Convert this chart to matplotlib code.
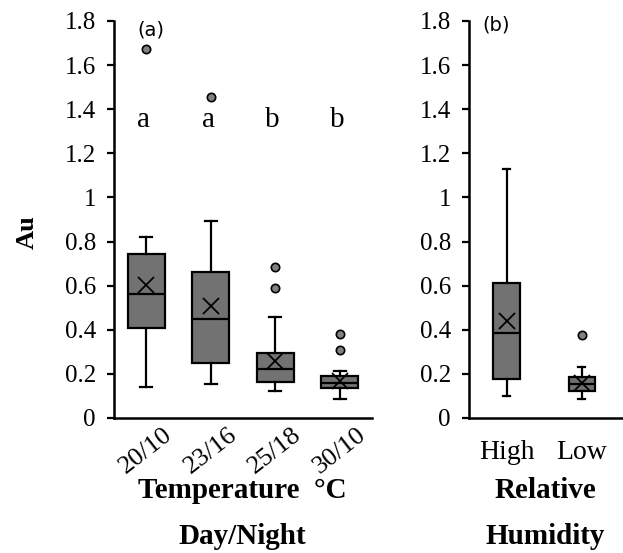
import matplotlib.pyplot as plt

plt.rcParams['font.family'] = ['Liberation Serif', 'DejaVu Serif']

# panel (a): temperature day/night
temp_labels = ['20/10', '23/16', '25/18', '30/10']
temp_whislo = [0.139, 0.154, 0.121, 0.086]
temp_q1 = [0.407, 0.249, 0.163, 0.136]
temp_med = [0.563, 0.450, 0.223, 0.158]
temp_q3 = [0.744, 0.664, 0.294, 0.189]
temp_whishi = [0.822, 0.893, 0.457, 0.214]
temp_mean = [0.603, 0.510, 0.260, 0.170]
temp_fliers = [[1.672], [1.456], [0.683, 0.588], [0.380, 0.309]]
temp_letters = ['a', 'a', 'b', 'b']

# panel (b): relative humidity
rh_labels = ['High', 'Low']
rh_whislo = [0.099, 0.088]
rh_q1 = [0.175, 0.122]
rh_med = [0.385, 0.155]
rh_q3 = [0.612, 0.186]
rh_whishi = [1.131, 0.231]
rh_mean = [0.438, 0.160]
rh_fliers = [[], [0.376]]


def make_stats(lo, q1, med, q3, hi, mean, fl):
    return [dict(whislo=lo[i], q1=q1[i], med=med[i], q3=q3[i], whishi=hi[i],
                 mean=mean[i], fliers=fl[i]) for i in range(len(lo))]


box_kw = dict(patch_artist=True, showmeans=True,
              boxprops=dict(facecolor='#727272', edgecolor='black', linewidth=1.6),
              medianprops=dict(color='black', linewidth=1.6),
              whiskerprops=dict(color='black', linewidth=1.6),
              capprops=dict(color='black', linewidth=1.6),
              meanprops=dict(marker='x', markeredgecolor='black', markersize=12, markeredgewidth=1.3),
              flierprops=dict(marker='o', markerfacecolor='#808080', markeredgecolor='black',
                              markersize=6, markeredgewidth=1.2))

fig = plt.figure(figsize=(6.23, 5.53), dpi=100)
ax1 = fig.add_axes([114 / 623, 1 - 418 / 553, (372 - 114) / 623, 397 / 553])
ax2 = fig.add_axes([469 / 623, 1 - 418 / 553, (623 - 469) / 623, 397 / 553])

ax1.bxp(make_stats(temp_whislo, temp_q1, temp_med, temp_q3, temp_whishi, temp_mean, temp_fliers),
        positions=range(1, 5), widths=0.58, capwidths=0.18, **box_kw)
ax2.bxp(make_stats(rh_whislo, rh_q1, rh_med, rh_q3, rh_whishi, rh_mean, rh_fliers),
        positions=range(1, 3), widths=0.35, capwidths=0.1, **box_kw)

for i, letter in enumerate(temp_letters):
    ax1.text(i + 0.96, 1.35, letter, ha='center', va='center', fontsize=21)

ax1.set_xlim(0.5, 4.5)
ax2.set_xlim(0.5, 2.55)
for ax in (ax1, ax2):
    ax.set_ylim(0, 1.8)
    ax.set_yticks([0, 0.2, 0.4, 0.6, 0.8, 1, 1.2, 1.4, 1.6, 1.8])
    ax.set_yticklabels(['0', '0.2', '0.4', '0.6', '0.8', '1', '1.2', '1.4', '1.6', '1.8'])
    ax.spines['top'].set_visible(False)
    ax.spines['right'].set_visible(False)
    ax.spines['left'].set_linewidth(1.8)
    ax.spines['bottom'].set_linewidth(1.8)
    ax.tick_params(axis='y', labelsize=18, width=1.6, length=5, pad=8)
    ax.tick_params(axis='x', length=0)

ax1.set_xticks(range(1, 5))
ax1.set_xticklabels(temp_labels, rotation=38, ha='center')
ax1.tick_params(axis='x', labelsize=19, pad=4)
ax2.set_xticks(range(1, 3))
ax2.set_xticklabels(rh_labels)
ax2.tick_params(axis='x', labelsize=20, pad=16)

ax1.text(0.09, 1.0, '(a)', transform=ax1.transAxes, fontsize=14, family='DejaVu Sans', va='top')
ax2.text(0.09, 1.015, '(b)', transform=ax2.transAxes, fontsize=14, family='DejaVu Sans', va='top')

fig.text(27 / 623, 1 - 232 / 553, 'Au', rotation=90, fontsize=19, fontweight='bold', ha='center', va='center')
fig.text(242 / 623, 1 - 491 / 553, 'Temperature  \u00b0C', fontsize=21, fontweight='bold', ha='center', va='center')
fig.text(242 / 623, 1 - 537 / 553, 'Day/Night', fontsize=21, fontweight='bold', ha='center', va='center')
fig.text(545 / 623, 1 - 491 / 553, 'Relative', fontsize=21, fontweight='bold', ha='center', va='center')
fig.text(545 / 623, 1 - 537 / 553, 'Humidity', fontsize=21, fontweight='bold', ha='center', va='center')

fig.savefig('out.png', dpi=100)
